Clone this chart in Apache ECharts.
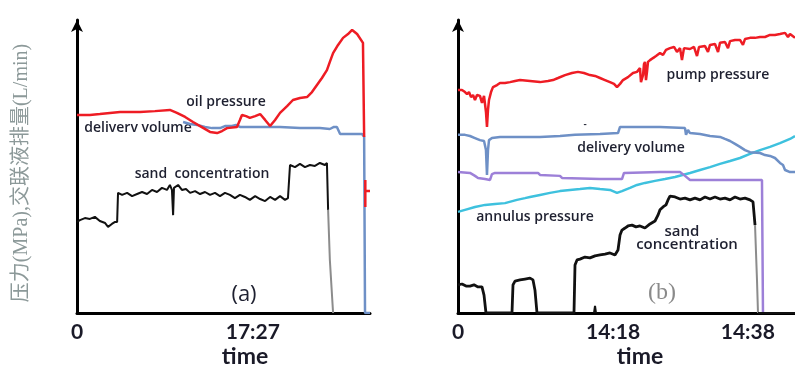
<!DOCTYPE html>
<html>
<head>
<meta charset="utf-8">
<script src="https://cdn.jsdelivr.net/npm/echarts@6/dist/echarts.min.js"></script>
<style>
  html, body { margin: 0; padding: 0; background: #fff; }
  #chart { width: 795px; height: 372px; }
</style>
</head>
<body>
<div id="chart"></div>
<script>
// x in % of the time span (a) / minutes (b), y in % of the axis height

// ---- panel (a) ----
const aTicks = [0, 60]
const aTickLabels = ['0', '17:27']

const aOilPressure = [
  [0, 67.6], [4.4, 67.6], [7.8, 67.9], [14.7, 68.6], [21.5, 68.6], [26.6, 68.9], [31.7, 69.3],
  [34.1, 68.3], [36.9, 66.9], [39.6, 65.2], [42.0, 63.8], [45.4, 61.8], [47.8, 61.4], [49.5, 62.1],
  [51.2, 63.1], [54.6, 63.5], [55.6, 65.9], [56.3, 67.6], [57.7, 67.2], [59.0, 66.6], [60.8, 67.2],
  [62.5, 67.9], [64.2, 65.9], [65.9, 63.8], [67.6, 65.9], [69.3, 68.3], [71.7, 70.6], [73.7, 72.7],
  [76.1, 73.4], [78.5, 73.7], [80.2, 75.4], [81.9, 77.8], [83.6, 80.2], [85.3, 82.9], [86.3, 85.7],
  [87.4, 88.7], [89.1, 91.5], [90.8, 93.9], [92.5, 95.2], [93.9, 96.6], [95.6, 95.2], [97.6, 92.2],
  [98.0, 60.1], null,
  [98.4, 45.4], [98.4, 41.6], [100, 41.6], [98.4, 41.6], [98.4, 36.2]
]

const aDeliveryVolume = [
  [36.2, 65.2], [38.6, 64.5], [41.0, 64.2], [43.7, 63.5], [46.1, 63.1], [48.8, 63.1], [50.5, 63.8],
  [52.9, 63.8], [54.3, 64.2], [55.6, 63.5], [62.5, 63.5], [69.3, 63.5], [76.1, 63.1], [82.9, 63.1],
  [86.3, 62.8], [87.7, 63.5], [88.7, 63.5], [89.8, 61.1], [97.3, 61.1], [98.0, 60.1], [98.3, 0],
  [100, 0]
]

const aSandConcentration = [
  [0, 31.1], [1.0, 31.7], [2.7, 32.4], [4.4, 32.1], [6.1, 32.8], [7.8, 31.4], [9.6, 30.7],
  [10.6, 29.4], [11.9, 30.4], [13.0, 31.1], [13.7, 31.1], [14.0, 41.0], [15.4, 40.3], [17.1, 41.0],
  [18.8, 39.9], [20.5, 40.6], [22.2, 41.3], [23.9, 40.6], [25.6, 42.0], [27.3, 41.3], [29.0, 42.7],
  [30.7, 42.0], [31.7, 43.7], [32.4, 42.0], [32.8, 33.4], [33.1, 42.7], [34.5, 43.7], [35.8, 42.0],
  [37.2, 42.3], [38.6, 41.0], [40.3, 41.6], [42.0, 40.6], [43.7, 41.3], [45.4, 40.3], [47.1, 41.0],
  [48.8, 39.9], [50.5, 41.0], [52.2, 40.3], [53.9, 39.2], [55.6, 40.3], [57.3, 39.6], [59.0, 38.6],
  [60.8, 39.9], [62.5, 38.9], [64.2, 38.2], [65.9, 39.6], [67.6, 38.6], [69.3, 39.9], [71.0, 38.6],
  [72.0, 39.2], [72.7, 50.5], [74.4, 49.8], [76.1, 50.9], [77.8, 49.8], [79.5, 50.5], [81.2, 50.2],
  [82.9, 51.2], [84.6, 50.5], [85.3, 51.2], [85.7, 35.2]
]
const aSandDrop = [[85.7, 35.2], [86.3, 18.1], [87.4, 0]]

// ---- panel (b) ----
const bTicks = [0, 23, 43]
const bTickLabels = ['0', '14:18', '14:38']

const bPumpPressure = [
  [0, 76.1], [0.59, 76.1], [1.04, 75.4], [1.34, 74.7], [1.63, 75.4], [1.93, 73.7], [2.23, 74.4],
  [2.52, 72.7], [2.82, 74.4], [3.26, 74.1], [3.56, 71.7], [3.86, 74.1], [4.15, 68.6], [4.30, 63.5],
  [4.45, 69.3], [4.60, 72.7], [4.90, 75.4], [5.19, 77.1], [5.79, 77.8], [6.23, 78.5], [6.97, 78.5],
  [7.72, 78.8], [8.46, 79.2], [9.20, 79.5], [10.68, 79.2], [12.17, 78.8], [13.35, 79.2], [14.09, 79.5],
  [14.84, 80.2], [15.88, 81.2], [16.91, 81.9], [17.80, 82.3], [18.69, 81.9], [19.58, 81.2], [20.33, 80.9],
  [21.07, 80.2], [21.81, 79.5], [22.55, 78.8], [23.15, 78.2], [23.59, 77.1], [24.04, 78.2], [24.48, 79.5],
  [25.22, 80.5], [25.96, 81.9], [26.56, 82.3], [27.00, 83.6], [27.15, 78.8], [27.45, 81.2], [27.60, 85.0],
  [27.74, 85.7], [27.89, 79.5], [28.04, 82.3], [28.19, 85.7], [28.49, 86.3], [28.93, 87.0], [29.38, 87.7],
  [29.97, 88.7], [30.42, 88.1], [30.86, 89.8], [31.45, 90.4], [32.05, 90.8], [32.49, 89.1], [32.94, 90.4],
  [33.23, 86.3], [33.53, 90.4], [34.42, 90.1], [35.01, 90.8], [35.46, 87.7], [35.76, 90.8], [36.65, 91.1],
  [37.09, 89.1], [37.39, 91.5], [38.13, 91.8], [38.58, 89.1], [38.87, 92.2], [39.61, 92.5], [40.06, 90.4],
  [40.36, 92.8], [41.10, 93.2], [41.84, 93.2], [42.28, 91.5], [42.58, 93.5], [43.32, 93.9], [44.07, 93.9],
  [44.81, 94.2], [45.55, 94.2], [46.29, 94.9], [47.03, 94.9], [47.77, 95.2], [48.52, 95.6], [48.96, 94.2],
  [49.26, 95.2], [50, 93.9]
]

const bDeliveryVolume = [
  [0, 60.8], [1.04, 60.8], [1.78, 60.4], [2.52, 59.7], [3.26, 59.0], [3.86, 58.7], [4.15, 55.6],
  [4.30, 47.1], [4.45, 55.6], [4.60, 59.0], [5.04, 59.7], [6.23, 60.1], [9.20, 60.1], [12.17, 60.1],
  [15.13, 60.4], [17.36, 60.8], [21.07, 61.1], [23.74, 61.4], [24.04, 63.5], [27.00, 63.5], [29.97, 63.5],
  [33.68, 63.1], [33.83, 60.8], [34.12, 62.5], [34.42, 61.4], [35.91, 61.1], [37.39, 60.4], [38.87, 60.1],
  [39.61, 59.4], [40.36, 58.7], [41.10, 57.7], [41.84, 56.7], [42.58, 55.6], [43.32, 54.9], [44.81, 54.6],
  [45.55, 53.9], [46.29, 53.6], [47.03, 52.9], [47.77, 51.2], [48.22, 50.5], [48.52, 48.8], [49.26, 48.1],
  [50, 48.1]
]

const bPurple = [
  [0, 48.1], [1.78, 47.8], [2.52, 46.8], [2.97, 46.1], [4.01, 45.7], [4.75, 45.4], [5.04, 47.4],
  [5.49, 47.8], [9.20, 47.8], [11.87, 47.8], [12.17, 47.1], [15.13, 46.8], [15.43, 46.1], [21.07, 45.7],
  [24.33, 45.7], [24.63, 47.8], [29.97, 48.1], [32.94, 48.1], [33.68, 46.8], [34.42, 45.4], [38.87, 45.4],
  [45.10, 45.4], [45.25, 0]
]

const bAnnulusPressure = [
  [0, 34.5], [1.04, 35.2], [2.52, 36.2], [4.01, 36.9], [5.49, 37.2], [6.97, 37.5], [8.75, 38.6],
  [9.94, 39.2], [10.68, 39.6], [12.17, 40.3], [13.65, 41.0], [15.13, 41.6], [16.62, 42.0], [18.10, 42.3],
  [19.58, 42.7], [21.07, 42.3], [22.55, 42.0], [23.59, 41.0], [24.33, 41.6], [25.52, 42.7], [26.56, 43.7],
  [27.74, 44.4], [29.23, 45.1], [30.71, 45.7], [32.20, 46.4], [34.42, 47.8], [35.91, 48.8], [37.39, 49.8],
  [38.87, 50.9], [40.36, 51.9], [41.84, 52.9], [43.32, 54.3], [44.81, 55.6], [46.29, 56.7], [47.77, 58.0],
  [49.26, 59.4], [50, 60.4]
]

const bSandConcentration = [
  [0, 9.6], [0.59, 9.9], [1.19, 9.2], [1.78, 9.2], [2.37, 9.6], [2.97, 8.9], [3.56, 8.9], [3.86, 6.1],
  [4.15, 0], [8.01, 0], [8.16, 9.6], [8.46, 10.9], [9.20, 11.3], [9.94, 11.6], [10.68, 11.9], [11.13, 11.3],
  [11.42, 7.8], [11.72, 0], [17.21, 0], [17.36, 16.4], [17.66, 18.1], [18.10, 18.4], [18.84, 19.1],
  [19.58, 18.8], [20.33, 19.5], [21.07, 19.8], [21.81, 20.1], [22.55, 20.5], [23.29, 19.8], [23.74, 21.5],
  [24.04, 26.6], [24.33, 28.3], [24.78, 29.0], [25.22, 29.7], [25.82, 30.0], [26.41, 29.4], [27.00, 29.7],
  [27.74, 29.0], [28.49, 30.4], [29.23, 31.4], [29.67, 33.4], [29.97, 35.2], [30.42, 36.2], [30.86, 36.9],
  [31.16, 38.6], [31.45, 39.9], [32.20, 39.6], [32.94, 38.9], [33.68, 39.2], [34.42, 38.6], [35.16, 39.2],
  [35.91, 38.6], [36.65, 39.6], [37.39, 38.9], [38.13, 39.6], [38.87, 38.9], [39.61, 39.2], [40.36, 38.6],
  [41.10, 39.6], [41.84, 38.9], [42.58, 39.2], [43.32, 38.6], [43.77, 37.9], [44.07, 30.0]
]
const bSandDrop = [[44.07, 30.0], [44.36, 11.3], [44.51, 0]]
const bSandTail = [[20.18, 0], [20.33, 2.4], [20.47, 0], null, [44.51, 0], [50, 0]]

const chart = echarts.init(document.getElementById('chart'))

const textFont = '"Open Sans", sans-serif'
const textColor = '#1e2030'

const line = (name, data, color, width, xi, z) => ({
  name,
  type: 'line',
  xAxisIndex: xi,
  yAxisIndex: xi,
  data,
  showSymbol: false,
  connectNulls: false,
  lineStyle: { color, width },
  z: z || 2,
})

const xAxisOf = (gridIndex, max, ticks, labels) => ({
  type: 'value',
  gridIndex,
  min: 0,
  max,
  axisLine: { lineStyle: { color: '#000', width: 3 } },
  axisTick: { show: false },
  splitLine: { show: false },
  axisLabel: {
    customValues: ticks,
    formatter: (v) => labels[ticks.indexOf(v)] || '',
    color: '#1a1a28',
    fontSize: 21,
    fontWeight: 'bold',
    fontFamily: 'Lato, sans-serif',
    margin: 9,
  },
})

const yAxisOf = (gridIndex) => ({
  type: 'value',
  gridIndex,
  min: 0,
  max: 100,
  axisLine: {
    show: true,
    symbol: ['none', 'arrow'],
    symbolSize: [9, 12],
    lineStyle: { color: '#000', width: 3 },
  },
  axisTick: { show: false },
  axisLabel: { show: false },
  splitLine: { show: false },
})

const label = (text, x, y, size, extra) => ({
  type: 'text',
  x,
  y,
  style: Object.assign({
    text,
    fill: textColor,
    font: `600 ${size}px ${textFont}`,
    align: 'center',
    verticalAlign: 'middle',
  }, extra || {}),
})

const option = {
  animation: false,
  backgroundColor: '#fff',
  grid: [
    { left: 77, top: 20, width: 293, height: 293 },
    { left: 458, top: 20, width: 337, height: 293 },
  ],
  xAxis: [
    xAxisOf(0, 100, aTicks, aTickLabels),
    xAxisOf(1, 50, bTicks, bTickLabels),
  ],
  yAxis: [yAxisOf(0), yAxisOf(1)],
  series: [
    line('delivery volume', aDeliveryVolume, '#6e90c6', 2.5, 0, 2),
    line('oil pressure', aOilPressure, '#ee1c24', 2.5, 0, 3),
    line('sand concentration', aSandConcentration, '#111', 2, 0, 3),
    line('sand drop', aSandDrop, '#8c8c8c', 2, 0, 3),

    line('annulus pressure', bAnnulusPressure, '#3ec1de', 2.5, 1, 2),
    line('purple', bPurple, '#9d80d8', 2.5, 1, 2),
    line('delivery volume', bDeliveryVolume, '#6e90c6', 2.5, 1, 3),
    line('pump pressure', bPumpPressure, '#ee1c24', 2.5, 1, 3),
    line('sand concentration', bSandConcentration, '#111', 2.8, 1, 4),
    line('sand drop', bSandDrop, '#8c8c8c', 2, 1, 4),
    line('sand tail', bSandTail, '#111', 2, 1, 4),
  ],
  graphic: [
    // y axis title
    {
      type: 'text',
      x: 22,
      y: 173,
      rotation: Math.PI / 2,
      style: {
        text: '压力(MPa),交联液排量(L/min)',
        fill: '#8c9999',
        font: '20px "Liberation Serif", "Noto Sans CJK SC", serif',
        align: 'center',
        verticalAlign: 'middle',
      },
    },
    // panel (a)
    label('oil pressure', 226, 102, 14),
    label('deliverv volume', 138, 128, 14),
    label('sand  concentration', 202, 174, 14),
    label('(a)', 244, 295, 22, { font: '22px "Open Sans", sans-serif' }),
    label('time', 245, 357, 23, { font: 'bold 23px Lato, sans-serif', fill: '#1a1a28' }),
    // panel (b)
    label('pump pressure', 718, 75, 14),
    label('-', 585, 125, 10),
    label('delivery volume', 631, 148, 14),
    label('annulus pressure', 535, 217, 14),
    label('sand', 682, 232, 15),
    label('concentration', 687, 245, 15),
    label('(b)', 662, 293, 24, { fill: '#8a8a8a', font: '24px "Liberation Serif", serif' }),
    label('time', 640, 357, 23, { font: 'bold 23px Lato, sans-serif', fill: '#1a1a28' }),
  ],
}

chart.setOption(option)
</script>
</body>
</html>
